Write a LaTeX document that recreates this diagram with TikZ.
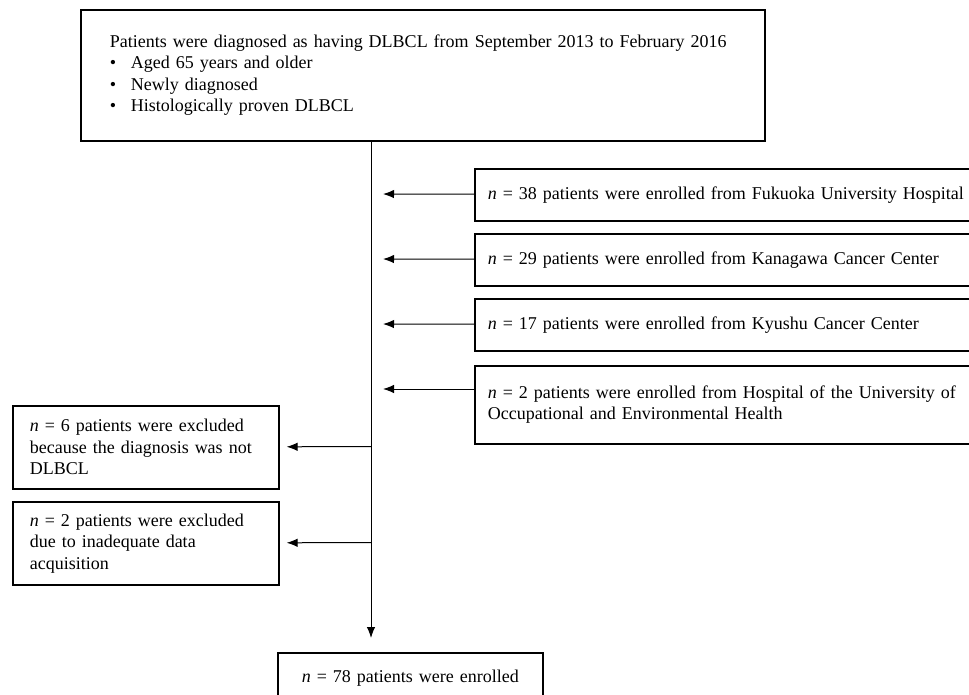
\documentclass[tikz,border=0pt]{standalone}
\usepackage{fontspec}
\setmainfont{Liberation Serif}
\usetikzlibrary{arrows.meta}

\begin{document}
\begin{tikzpicture}[x=1pt,y=-1pt,
  font=\fontsize{18}{21.5}\selectfont,
  box/.style={draw,line width=1.6pt,anchor=north west,align=left,inner ysep=0pt},
  arr/.style={line width=1pt,-{Latex[length=11pt,width=8.5pt]}}]
  \path[use as bounding box,clip] (0,0) rectangle (969,695);
  \node[box,text width=626pt,inner xsep=29pt,minimum height=131pt] (0) at (80,9) {Patients were diagnosed as having DLBCL from September 2013 to February 2016\\
    \makebox[21pt][l]{\textbullet}Aged 65 years and older\\
    \makebox[21pt][l]{\textbullet}Newly diagnosed\\
    \makebox[21pt][l]{\textbullet}Histologically proven DLBCL};
  \node[box,text width=490pt,inner xsep=13pt,minimum height=52pt] (1) at (474,168) {\textit{n} = 38 patients were enrolled from Fukuoka University Hospital};
  \node[box,text width=490pt,inner xsep=13pt,minimum height=52pt] (2) at (474,233) {\textit{n} = 29 patients were enrolled from Kanagawa Cancer Center};
  \node[box,text width=490pt,inner xsep=13pt,minimum height=52pt] (3) at (474,298) {\textit{n} = 17 patients were enrolled from Kyushu Cancer Center};
  \node[box,text width=490pt,inner xsep=13pt,minimum height=78pt] (4) at (474,365) {\textit{n} = 2 patients were enrolled from Hospital of the University of\\
    Occupational and Environmental Health};
  \node[box,text width=232pt,inner xsep=17pt,minimum height=83pt] (5) at (12,405) {\textit{n} = 6 patients were excluded\\
    because the diagnosis was not\\
    DLBCL};
  \node[box,text width=232pt,inner xsep=17pt,minimum height=83pt] (6) at (12,501) {\textit{n} = 2 patients were excluded\\
    due to inadequate data\\
    acquisition};
  \node[box,text width=241pt,inner xsep=12pt,minimum height=50pt,align=center] (7) at (277,652) {\textit{n} = 78 patients were enrolled};
  \coordinate (t1) at (371,194);
  \coordinate (t2) at (371,259);
  \coordinate (t3) at (371,324);
  \coordinate (t4) at (371,389);
  \coordinate (t5) at (371,446.5);
  \coordinate (t6) at (371,542.5);
  \draw[arr,shorten >=14pt] (0.south -| t1) -- (7.north -| t1);
  \draw[arr,shorten >=12pt] (1) -- (t1);
  \draw[arr,shorten >=12pt] (2) -- (t2);
  \draw[arr,shorten >=12pt] (3) -- (t3);
  \draw[arr,shorten >=12pt] (4.west |- t4) -- (t4);
  \draw[arr,shorten >=7pt] (t5) -- (5);
  \draw[arr,shorten >=7pt] (t6) -- (6);
\end{tikzpicture}
\end{document}
